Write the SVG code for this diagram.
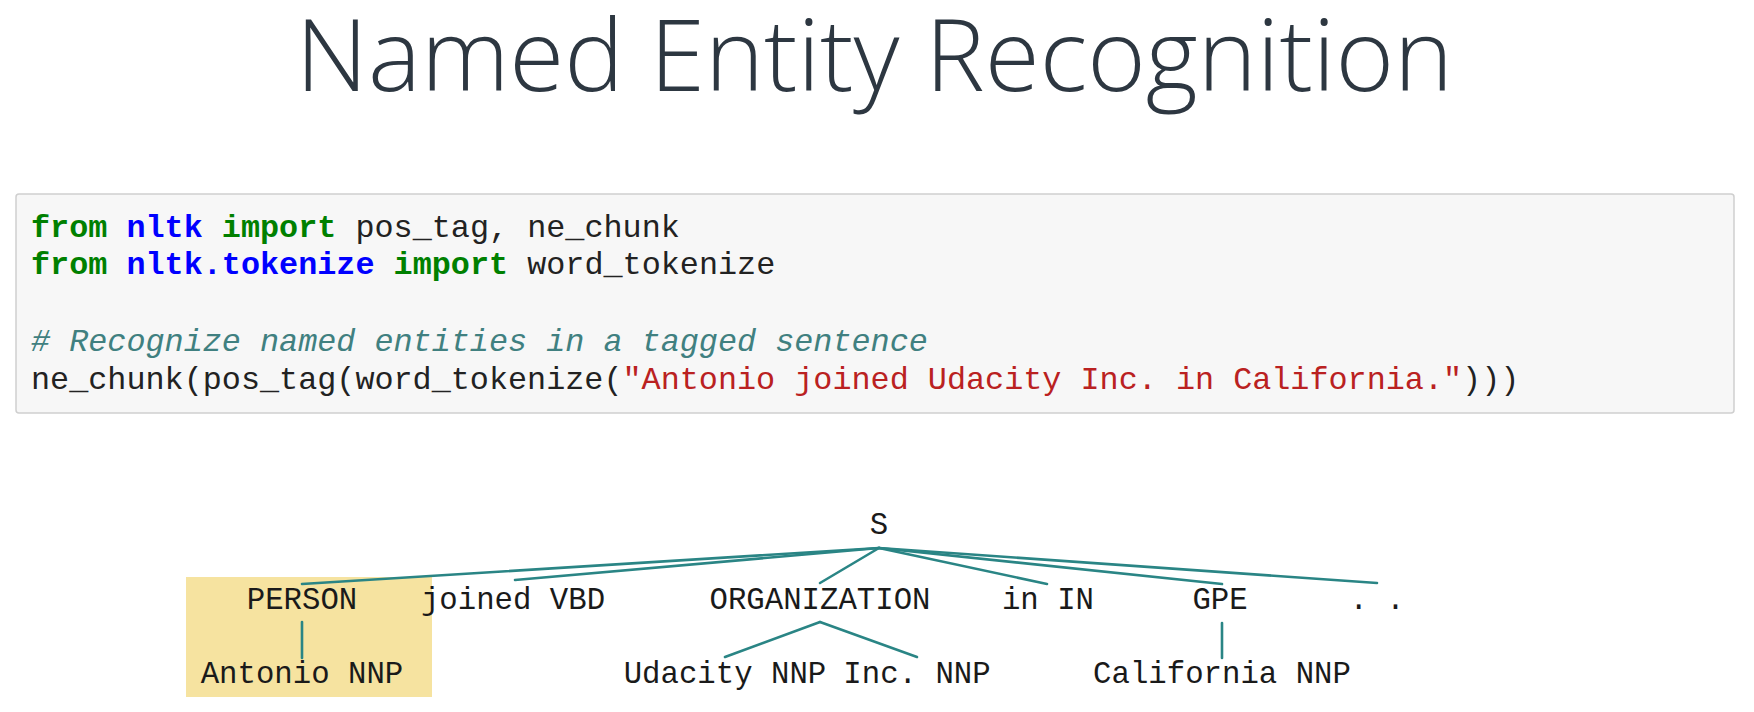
<svg xmlns="http://www.w3.org/2000/svg" width="1754" height="712" viewBox="0 0 1754 712">
<style>
.title{font-family:"Open Sans","Liberation Sans",sans-serif;font-weight:300;font-size:100px;fill:#2d3741}
.code{font-family:"Liberation Mono","DejaVu Sans Mono",monospace;font-size:31.8px;fill:#222}
.kw{fill:#008000;font-weight:bold}
.mod{fill:#0000ff;font-weight:bold}
.cm{fill:#408080;font-style:italic}
.st{fill:#ba2121}
.tree{font-family:"Liberation Mono","DejaVu Sans Mono",monospace;font-size:30.7px;fill:#1a1a1a}
.edge{stroke:#2a8585;stroke-width:2.6;fill:none;stroke-linecap:round}
</style>
<rect width="1754" height="712" fill="#ffffff"/>
<g id="title"><text class="title" x="874.5" y="91" text-anchor="middle">Named Entity Recognition</text></g>
<g id="code">
<rect x="16" y="194" width="1718" height="219" rx="3" fill="#f7f7f7" stroke="#cfcfcf" stroke-width="1.5"/>
<text class="code" x="31" y="237"><tspan class="kw">from</tspan> <tspan class="mod">nltk</tspan> <tspan class="kw">import</tspan> pos_tag, ne_chunk</text>
<text class="code" x="31" y="274"><tspan class="kw">from</tspan> <tspan class="mod">nltk.tokenize</tspan> <tspan class="kw">import</tspan> word_tokenize</text>
<text class="code cm" x="31" y="351"># Recognize named entities in a tagged sentence</text>
<text class="code" x="31" y="389">ne_chunk(pos_tag(word_tokenize(<tspan class="st">"Antonio joined Udacity Inc. in California."</tspan>)))</text>
</g>
<g id="highlight"><rect x="186" y="577" width="246" height="120" fill="#f6e3a0"/></g>
<g id="connectors">
<line class="edge" x1="879" y1="548" x2="302" y2="584"/>
<line class="edge" x1="879" y1="548" x2="515" y2="580"/>
<line class="edge" x1="879" y1="548" x2="820" y2="583"/>
<line class="edge" x1="879" y1="548" x2="1047" y2="584"/>
<line class="edge" x1="879" y1="548" x2="1222" y2="584"/>
<line class="edge" x1="879" y1="548" x2="1377" y2="583"/>
<line class="edge" x1="302" y1="622" x2="302" y2="658"/>
<line class="edge" x1="820" y1="622" x2="725" y2="657"/>
<line class="edge" x1="820" y1="622" x2="917" y2="657"/>
<line class="edge" x1="1222" y1="623" x2="1222" y2="658"/>
</g>
<g id="node-S"><text class="tree" x="879" y="534" text-anchor="middle">S</text></g>
<g id="node-PERSON"><text class="tree" x="302" y="609" text-anchor="middle">PERSON</text></g>
<g id="node-joined"><text class="tree" x="513" y="609" text-anchor="middle">joined VBD</text></g>
<g id="node-ORGANIZATION"><text class="tree" x="820" y="609" text-anchor="middle">ORGANIZATION</text></g>
<g id="node-in"><text class="tree" x="1048" y="609" text-anchor="middle">in IN</text></g>
<g id="node-GPE"><text class="tree" x="1220" y="609" text-anchor="middle">GPE</text></g>
<g id="node-period"><text class="tree" x="1377" y="609" text-anchor="middle">. .</text></g>
<g id="node-Antonio"><text class="tree" x="302" y="683" text-anchor="middle">Antonio NNP</text></g>
<g id="node-Udacity"><text class="tree" x="725" y="683" text-anchor="middle">Udacity NNP</text></g>
<g id="node-Inc"><text class="tree" x="917" y="683" text-anchor="middle">Inc. NNP</text></g>
<g id="node-California"><text class="tree" x="1222" y="683" text-anchor="middle">California NNP</text></g>
</svg>
